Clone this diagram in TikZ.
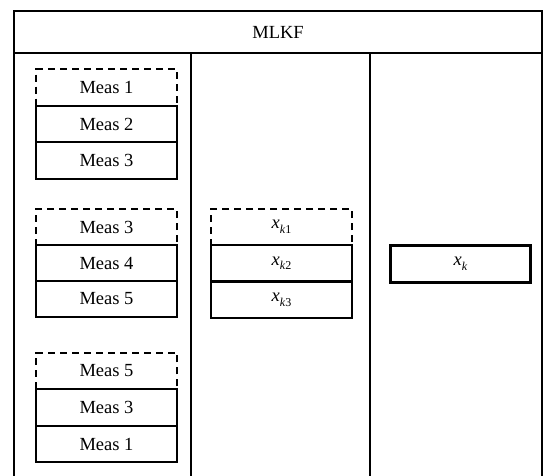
\documentclass[tikz,border=0pt]{standalone}
\usepackage{fontspec}
\setmainfont{Liberation Serif}
\newcommand{\xsub}[1]{\textit{x}\raisebox{-0.55ex}{\fontsize{12}{13}\selectfont\textit{k}#1}}
\begin{document}
\begin{tikzpicture}[x=1pt,y=-1pt,
  frameline/.style={line width=1.4pt},
  row/.style={draw,line width=1.8pt,minimum width=141pt,minimum height=36.5pt,inner sep=0pt,
    font=\fontsize{18.5}{20}\selectfont},
  dashrow/.style={row,dash pattern=on 7pt off 5pt},
  resbox/.style={draw,line width=2.6pt,minimum width=140pt,minimum height=37pt,inner sep=0pt,
    font=\fontsize{18.5}{20}\selectfont}]
\useasboundingbox (0,0) rectangle (543,476);
% frame
\node[draw,frameline,minimum width=528pt,minimum height=42pt,inner sep=0pt,
  font=\fontsize{18.5}{20}\selectfont] (head) at (278,32) {MLKF};
\coordinate (l1) at (14,53); \coordinate (l2) at (14,476);
\coordinate (r1) at (542,53); \coordinate (r2) at (542,476);
\coordinate (d1t) at (191,53); \coordinate (d1b) at (191,476);
\coordinate (d2t) at (370,53); \coordinate (d2b) at (370,476);
\draw[frameline] (l1) -- (l2);
\draw[frameline] (r1) -- (r2);
\draw[frameline] (d1t) -- (d1b);
\draw[frameline] (d2t) -- (d2b);
% stack 1
\node[dashrow] (a1) at (106.5,87.3) {Meas 1};
\node[row] (a2) at (106.5,124) {Meas 2};
\node[row] (a3) at (106.5,160.7) {Meas 3};
% stack 2
\node[dashrow,minimum height=36pt] (b1) at (106.5,227) {Meas 3};
\node[row,minimum height=36pt] (b2) at (106.5,263) {Meas 4};
\node[row,minimum height=36pt] (b3) at (106.5,299) {Meas 5};
% stack 3
\node[dashrow] (c1) at (106.5,371) {Meas 5};
\node[row] (c2) at (106.5,407.5) {Meas 3};
\node[row] (c3) at (106.5,444) {Meas 1};
% middle stack
\node[dashrow,minimum height=36pt] (m1) at (281.5,227) {\xsub{1}};
\node[row,minimum height=36pt] (m2) at (281.5,263.3) {\xsub{2}};
\node[row,minimum height=36pt] (m3) at (281.5,299.6) {\xsub{3}};
% result
\node[resbox] (xk) at (460.5,264) {\xsub{}};
\end{tikzpicture}
\end{document}
